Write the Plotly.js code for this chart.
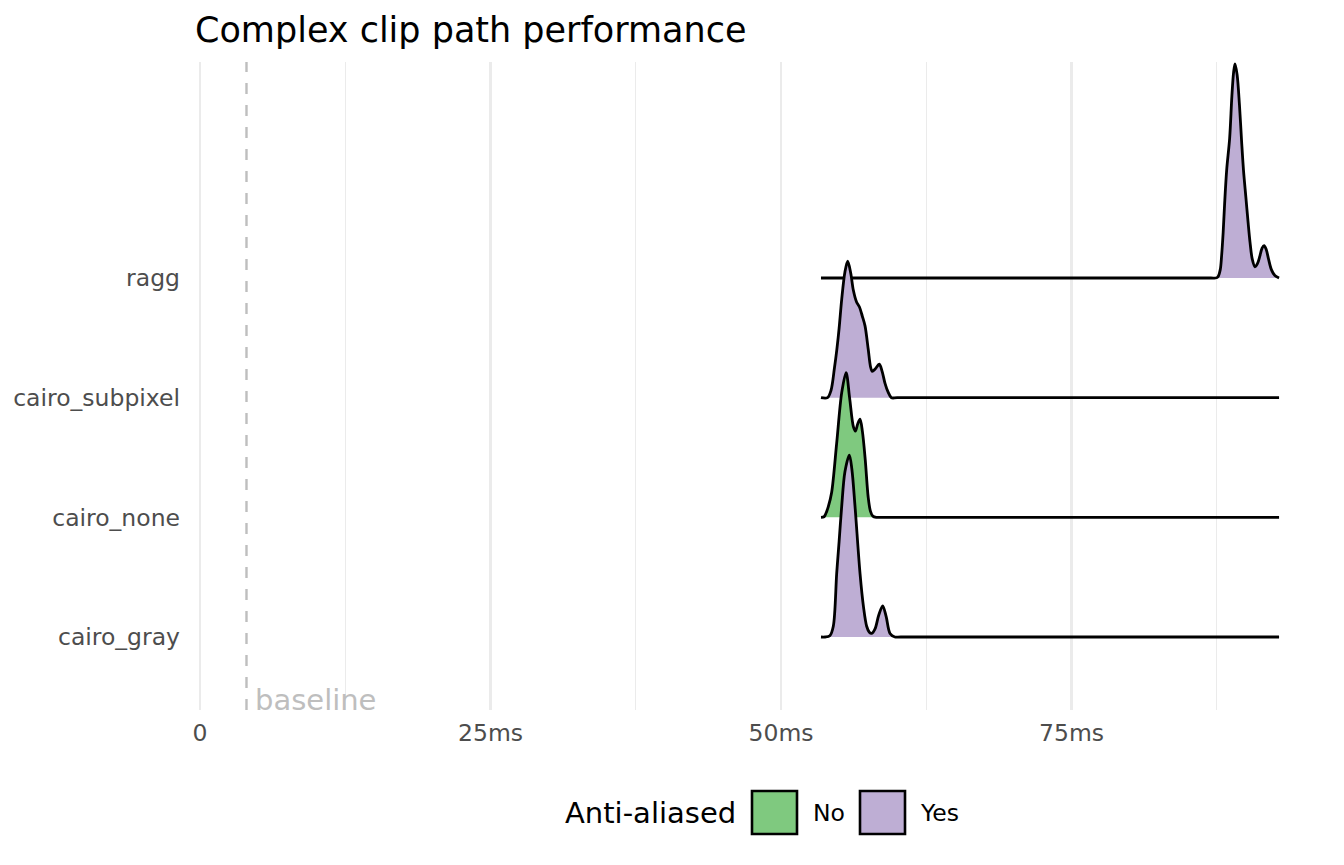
<!DOCTYPE html>
<html>
<head>
<meta charset="utf-8">
<script src="https://cdn.plot.ly/plotly-3.0.1.min.js"></script>
<style>html,body{margin:0;padding:0;background:#fff;}</style>
</head>
<body>
<div id="chart" style="width:1344px;height:865px;"></div>
<script>
// ---- data ----
const categories = ["cairo_gray", "cairo_none", "cairo_subpixel", "ragg"];
const antiAliased = ["Yes", "No", "Yes", "Yes"];
const legendLabels = ["No", "Yes"];
const baselineMs = 4;

const grayX = [53.44, 53.8, 54.2, 54.5, 54.79, 55.0, 55.22, 55.5, 55.88, 56.1, 56.37, 56.8, 57.1, 57.37, 57.6, 57.8, 58.1, 58.4, 58.75, 59.05, 59.38, 59.8, 60.3, 92.86];
const grayDensity = [0, 0, 0.01, 0.09, 0.53, 0.80, 1.09, 1.38, 1.52, 1.40, 1.09, 0.53, 0.25, 0.09, 0.04, 0.03, 0.07, 0.18, 0.26, 0.17, 0.03, 0, 0, 0];

const noneX = [53.44, 53.7, 53.85, 54.07, 54.36, 54.79, 55.22, 55.6, 55.9, 56.22, 56.4, 56.6, 56.8, 57.0, 57.25, 57.5, 57.7, 57.9, 58.2, 58.7, 92.86];
const noneDensity = [0, 0.005, 0.03, 0.09, 0.21, 0.62, 1.04, 1.21, 1.00, 0.76, 0.72, 0.78, 0.82, 0.72, 0.48, 0.17, 0.05, 0.01, 0, 0, 0];

const subpixelX = [53.44, 54.0, 54.3, 54.6, 54.8, 55.0, 55.22, 55.5, 55.74, 56.0, 56.22, 56.5, 56.74, 57.0, 57.23, 57.51, 57.7, 57.85, 58.1, 58.46, 58.7, 58.95, 59.2, 59.5, 60.0, 92.86];
const subpixelDensity = [0, 0, 0.06, 0.25, 0.40, 0.58, 0.82, 1.05, 1.14, 1.04, 0.90, 0.80, 0.76, 0.68, 0.60, 0.40, 0.26, 0.22, 0.24, 0.28, 0.22, 0.12, 0.05, 0, 0, 0];

const raggX = [53.44, 87.0, 87.4, 87.6, 87.8, 87.92, 88.05, 88.17, 88.35, 88.61, 88.8, 88.95, 89.07, 89.25, 89.45, 89.65, 89.8, 90.0, 90.2, 90.36, 90.55, 90.79, 91.0, 91.2, 91.4, 91.57, 91.75, 91.95, 92.2, 92.5, 92.86];
const raggDensity = [0, 0, 0, 0.01, 0.07, 0.19, 0.38, 0.61, 0.90, 1.17, 1.52, 1.72, 1.79, 1.70, 1.45, 1.12, 0.90, 0.68, 0.46, 0.30, 0.16, 0.094, 0.12, 0.18, 0.25, 0.27, 0.24, 0.16, 0.07, 0.02, 0];

const xTickVals = [0, 25, 50, 75];
const xTickText = ["0", "25ms", "50ms", "75ms"];
const xMinorVals = [12.5, 37.5, 62.5, 87.5];

// ---- styling ----
const FONT = "DejaVu Sans, Verdana, sans-serif";
const fillColors = { "No": "#7FC97F", "Yes": "#BEAED4" };
const ridges = [
  { x: grayX, d: grayDensity },
  { x: noneX, d: noneDensity },
  { x: subpixelX, d: subpixelDensity },
  { x: raggX, d: raggDensity }
];

const traces = [];
// draw from top (ragg) to bottom so lower ridges sit on top
for (let i = categories.length - 1; i >= 0; i--) {
  const r = ridges[i];
  const base = i + 1;
  const xs = r.x;
  traces.push({
    type: "scatter", mode: "lines",
    x: [xs[0], xs[xs.length - 1]], y: [base, base],
    line: { width: 0, color: "rgba(0,0,0,0)" },
    hoverinfo: "skip", showlegend: false
  });
  traces.push({
    type: "scatter", mode: "lines",
    x: xs, y: r.d.map(v => base + v),
    fill: "tonexty", fillcolor: fillColors[antiAliased[i]],
    line: { color: "#000000", width: 2.8, shape: "spline", smoothing: 0.9 },
    name: categories[i], showlegend: false
  });
}

// plot area geometry in px (for paper coords of legend)
const L = 187, R = 1293, T = 62, B = 710;
const px = v => (v - L) / (R - L);
const py = v => (B - v) / (B - T);

const layout = {
  width: 1344, height: 865,
  margin: { l: L, r: 1344 - R, t: T, b: 865 - B, pad: 0 },
  paper_bgcolor: "#ffffff", plot_bgcolor: "#ffffff",
  showlegend: false,
  font: { family: FONT, color: "#4D4D4D" },
  title: {
    text: "Complex clip path performance",
    font: { family: FONT, size: 35, color: "#000000" },
    xref: "container", x: 195 / 1344, xanchor: "left",
    yref: "container", y: 1 - 30 / 865, yanchor: "middle"
  },
  xaxis: {
    range: [-1.12, 94.06],
    tickmode: "array", tickvals: xTickVals, ticktext: xTickText,
    showgrid: true, gridcolor: "#EBEBEB", gridwidth: 2.1,
    minor: { tickmode: "array", tickvals: xMinorVals, showgrid: true, gridcolor: "#EBEBEB", gridwidth: 1.1, ticks: "" },
    zeroline: false, showline: false, ticks: "",
    ticklabelstandoff: 6,
    tickfont: { family: FONT, size: 23.5, color: "#4D4D4D" },
    fixedrange: true
  },
  yaxis: {
    range: [0.39, 5.805],
    tickmode: "array", tickvals: [1, 2, 3, 4], ticktext: categories,
    showgrid: false, zeroline: false, showline: false, ticks: "",
    ticklabelstandoff: 6,
    tickfont: { family: FONT, size: 23.5, color: "#4D4D4D" },
    fixedrange: true
  },
  shapes: [
    { type: "line", xref: "x", yref: "paper", x0: baselineMs, x1: baselineMs, y0: 0, y1: 1,
      line: { color: "#BEBEBE", width: 2.4, dash: "11px,11px" }, layer: "above" },
    { type: "rect", xref: "paper", yref: "paper", x0: px(752), x1: px(797), y0: py(834), y1: py(791),
      fillcolor: fillColors["No"], line: { color: "#000", width: 2.6 } },
    { type: "rect", xref: "paper", yref: "paper", x0: px(860), x1: px(905), y0: py(834), y1: py(791),
      fillcolor: fillColors["Yes"], line: { color: "#000", width: 2.6 } }
  ],
  annotations: [
    { text: "baseline", xref: "x", yref: "paper", x: baselineMs, y: 0, xanchor: "left", yanchor: "bottom",
      xshift: 7, yshift: -9, showarrow: false, font: { family: FONT, size: 29, color: "#BEBEBE" } },
    { text: "Anti-aliased", xref: "paper", yref: "paper", x: px(563), y: py(813), xanchor: "left", yanchor: "middle",
      showarrow: false, font: { family: FONT, size: 29, color: "#000000" } },
    { text: legendLabels[0], xref: "paper", yref: "paper", x: px(811), y: py(813), xanchor: "left", yanchor: "middle",
      showarrow: false, font: { family: FONT, size: 23.5, color: "#000000" } },
    { text: legendLabels[1], xref: "paper", yref: "paper", x: px(918), y: py(813), xanchor: "left", yanchor: "middle",
      showarrow: false, font: { family: FONT, size: 23.5, color: "#000000" } }
  ]
};

Plotly.newPlot("chart", traces, layout, { displayModeBar: false, staticPlot: true });
</script>
</body>
</html>
